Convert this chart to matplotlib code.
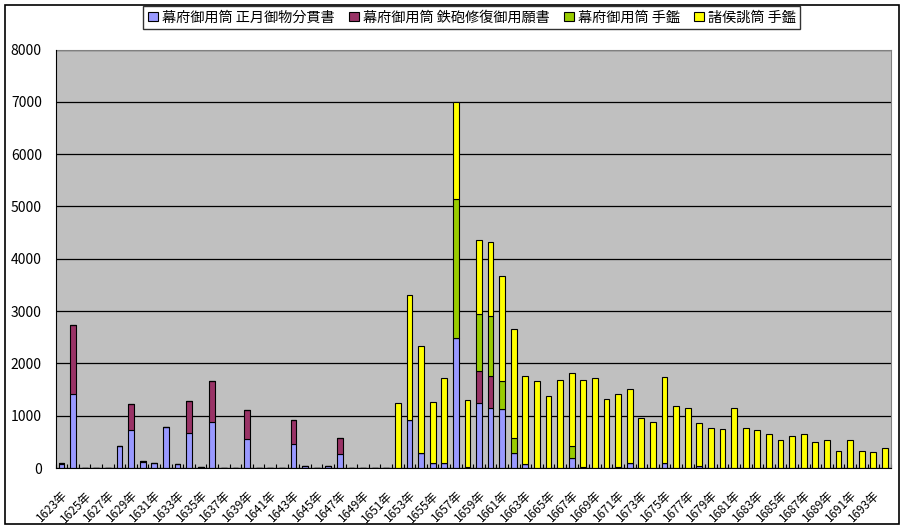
import matplotlib
matplotlib.use('Agg')
import matplotlib.pyplot as plt
import numpy as np

plt.rcParams['font.family'] = ['Noto Sans CJK JP', 'DejaVu Sans']

# years 1623 .. 1694
years = list(range(1623, 1695))
labels = [str(y) + '年' for y in years]

# 幕府御用筒 正月御物分貫書
s_shogatsu = [80, 1420, 0, 0, 0, 430, 735, 120, 100, 790, 85, 660, 20, 870, 0, 0,
              560, 0, 0, 0, 450, 45, 0, 30, 275, 0, 0, 0, 0, 0, 910, 290,
              95, 95, 2480, 20, 1235, 1140, 1120, 280, 70, 0, 0, 0, 185, 15, 0, 0,
              15, 90, 0, 0, 90, 0, 0, 30, 0, 0, 0, 0, 0, 0, 0, 0,
              0, 0, 0, 0, 0, 0, 0, 0]
# 幕府御用筒 鉄砲修復御用願書
s_shufuku = [20, 1310, 0, 0, 0, 0, 495, 20, 0, 0, 0, 630, 0, 800, 0, 0,
             555, 0, 0, 0, 460, 0, 0, 0, 290, 0, 0, 0, 0, 0, 0, 0,
             0, 0, 0, 0, 610, 610, 0, 0, 0, 0, 0, 0, 0, 0, 0, 0,
             0, 0, 0, 0, 0, 0, 0, 0, 0, 0, 0, 0, 0, 0, 0, 0,
             0, 0, 0, 0, 0, 0, 0, 0]
# 幕府御用筒 手鑑
s_tekagami = [0] * 34 + [2670, 0, 1090, 1150, 535, 290, 0, 0, 0, 0, 230] + [0] * 27
# 諸侯誂筒 手鑑
s_shoko = [0] * 29 + [1250, 2390, 2040, 1160, 1620, 1850, 1275, 1415, 1415, 2025, 2080,
                      1680, 1655, 1370, 1675, 1395, 1660, 1715, 1315, 1395, 1415, 950,
                      875, 1645, 1180, 1140, 825, 760, 740, 1140, 760, 720, 645,
                      530, 605, 645, 490, 530, 320, 530, 320, 300, 375]

series = [
    ('幕府御用筒 正月御物分貫書', s_shogatsu, '#9999FF'),
    ('幕府御用筒 鉄砲修復御用願書', s_shufuku, '#993366'),
    ('幕府御用筒 手鑑', s_tekagami, '#99CC00'),
    ('諸侯誂筒 手鑑', s_shoko, '#FFFF00'),
]

fig = plt.figure(figsize=(9.04, 5.29), dpi=100)
ax = fig.add_axes([0.0616, 0.1153, 0.9237, 0.7911])
ax.set_facecolor('#C0C0C0')
ax.set_axisbelow(True)

x = np.arange(len(years))
bottom = np.zeros(len(years))
handles = []
for name, vals, col in series:
    vals = np.array(vals, dtype=float)
    b = ax.bar(x, vals, 0.5, bottom=bottom, color=col, edgecolor='black',
               linewidth=0.8, label=name, zorder=3)
    handles.append(b)
    bottom += vals

ax.set_xlim(-0.5, len(years) - 0.5)
ax.set_ylim(0, 8000)
ax.set_yticks(range(0, 8001, 1000))
ax.yaxis.grid(True, color='black', linewidth=0.9)
ax.tick_params(axis='y', length=0, pad=10, labelsize=10)

# category boundaries carry the ticks, labels on every other category
ax.set_xticks(np.arange(-0.5, len(years), 1), minor=True)
ax.set_xticks(x[::2])
ax.set_xticklabels(labels[::2], rotation=45, ha='right', va='top',
                   rotation_mode='anchor', fontsize=8.5)
ax.tick_params(axis='x', which='major', length=0, pad=15)
ax.tick_params(axis='x', which='minor', direction='in', length=3, width=0.8)

for sp in ['top', 'right']:
    ax.spines[sp].set_color('#808080')
for sp in ['left', 'bottom']:
    ax.spines[sp].set_color('black')
    ax.spines[sp].set_zorder(4)

leg = fig.legend(handles=handles, loc='center', bbox_to_anchor=(0.522, 0.967),
                 ncol=4, fontsize=10.2, frameon=True, fancybox=False,
                 edgecolor='black', handlelength=0.7, handleheight=0.7,
                 handletextpad=0.3, columnspacing=1.0, borderpad=0.3,
                 borderaxespad=0)
leg.get_frame().set_linewidth(1.0)

# outer chart border
fig.patches.append(plt.Rectangle((0.0055, 0.0095), 0.989, 0.981,
                                 transform=fig.transFigure, fill=False,
                                 edgecolor='black', linewidth=1.2))

fig.savefig('out.png', dpi=100)
